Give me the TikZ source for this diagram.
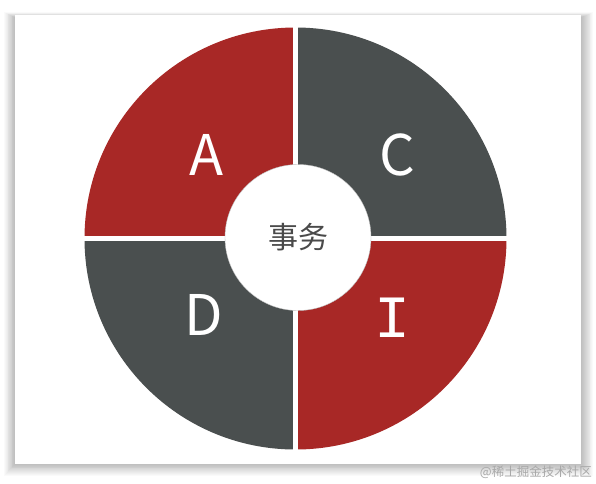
\documentclass[tikz,border=0pt]{standalone}
\usepackage{fontspec}
\newfontfamily\cjk{Noto Sans CJK SC}
\newfontfamily\monof{Liberation Mono}
\definecolor{redq}{HTML}{A82826}
\definecolor{grayq}{HTML}{4A4F4F}
\definecolor{textgray}{HTML}{4A4A4A}
\definecolor{wmgray}{HTML}{A8A8A8}
\tikzset{
  letter/.style={inner sep=0pt, text=white, font=\cjk\fontsize{56}{56}\selectfont}
}
\begin{document}
\begin{tikzpicture}[x=1pt,y=-1pt]
\useasboundingbox (0,0) rectangle (596,483);
\fill[white] (0,0) rectangle (596,483);
% card shadow
\foreach \i in {1,...,14} {
  \fill[black,opacity=0.018] (15.5-0.8*\i,18-0.4*\i) rectangle (580.5+0.9*\i,463+0.9*\i);
}
\fill[white] (15,15) rectangle (581,464);
% quadrants
\begin{scope}
  \clip (295.5,238.5) circle (211);
  \fill[redq]  (80,20)   rectangle (293,236);
  \fill[grayq] (298,20)  rectangle (512,236);
  \fill[grayq] (80,241)  rectangle (293,456);
  \fill[redq]  (298,241) rectangle (512,456);
\end{scope}
\node[circle, fill=white, draw=black!25, line width=0.4pt, minimum size=146pt, inner sep=0pt] (core) at (298,237.5) {};
\node[inner sep=0pt, text=textgray, font=\cjk\fontsize{30}{30}\selectfont] (label) at (core.center) {事务};
\node[letter] (A) at (207,155) {A};
\node[letter] (C) at (397.5,155) {C};
\node[letter] (D) at (204,314.5) {D};
\node[letter, font=\monof\fontsize{60}{60}\selectfont] (I) at (392,318) {I};
\node[anchor=south east, inner sep=0pt, text=wmgray, font=\cjk\fontsize{12.5}{12.5}\selectfont] (wm) at (592,479) {@稀土掘金技术社区};
\end{tikzpicture}
\end{document}
